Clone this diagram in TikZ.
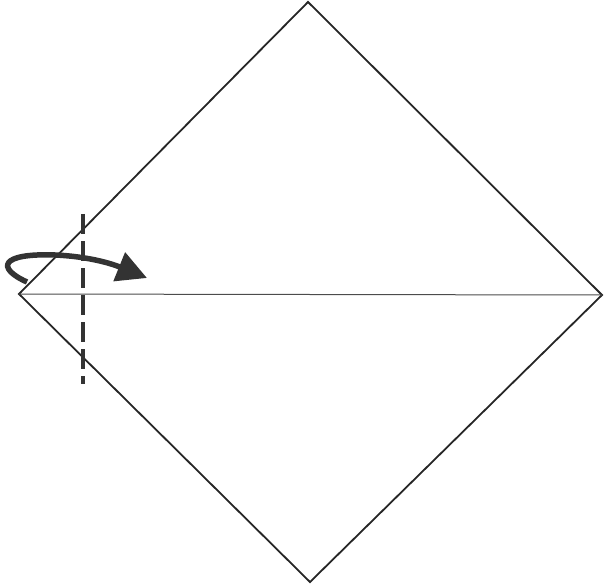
\documentclass[tikz,border=0pt]{standalone}
\usetikzlibrary{arrows.meta}
\begin{document}
\begin{tikzpicture}[x=1pt,y=-1pt,
  edge/.style={line width=1.8pt,color=black!85},
  crease/.style={line width=1pt,color=black!70},
  foldline/.style={line width=4.5pt,color=black!80,dash pattern=on 20pt off 7pt},
  foldarrow/.style={line width=5.5pt,color=black!80,-{Triangle[length=30pt,width=30pt]}}]
\useasboundingbox (0,0) rectangle (604,585);
\coordinate (T) at (308,2);
\coordinate (R) at (602,295);
\coordinate (B) at (310,582);
\coordinate (L) at (19,294);
\draw[edge,line join=miter] (T) -- (R) -- (B) -- (L) -- cycle;
\draw[crease] (L) -- (R);
\coordinate (d1) at (83,214);
\coordinate (d2) at (83,384);
\draw[foldline] (d1) -- (d2);
\coordinate (a0) at (27,282);
\coordinate (a1) at (147,278);
\draw[foldarrow] (a0) .. controls (-4,268) and (0,253) .. (55,255)
  .. controls (80,256) and (105,261) .. (a1);
\end{tikzpicture}
\end{document}
